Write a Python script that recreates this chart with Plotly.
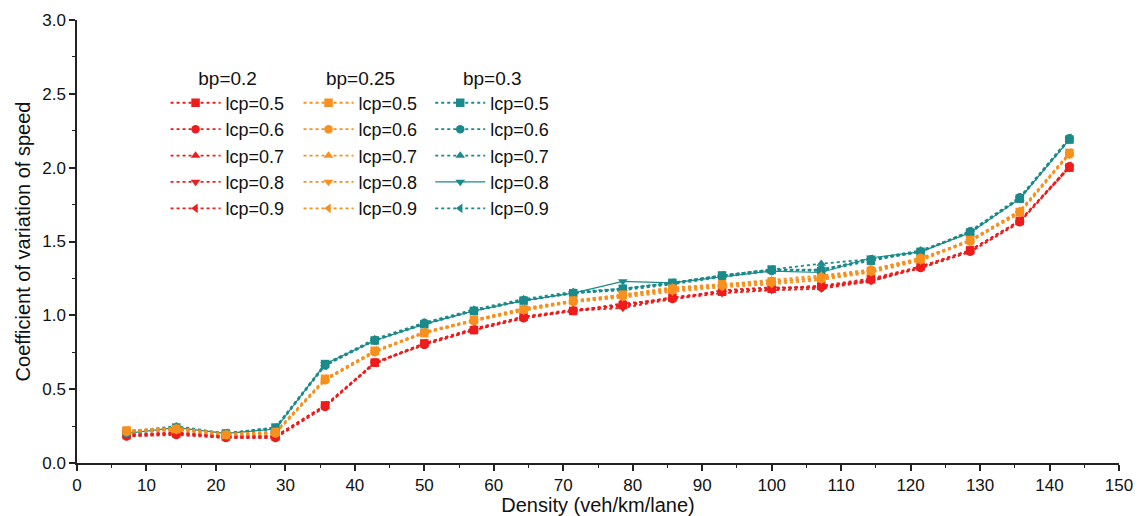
import plotly.graph_objects as go

density = [7.14, 14.29, 21.43, 28.57, 35.71, 42.86, 50.0, 57.14, 64.29, 71.43,
           78.57, 85.71, 92.86, 100.0, 107.14, 114.29, 121.43, 128.57, 135.71, 142.86]

lcp_labels = ["lcp=0.5", "lcp=0.6", "lcp=0.7", "lcp=0.8", "lcp=0.9"]
bp_labels = ["bp=0.2", "bp=0.25", "bp=0.3"]

red_05 = [0.19, 0.20, 0.18, 0.18, 0.39, 0.68, 0.81, 0.90, 0.99, 1.03, 1.07, 1.12, 1.16, 1.18, 1.20, 1.25, 1.33, 1.44, 1.64, 2.00]
red_06 = [0.18, 0.19, 0.17, 0.17, 0.38, 0.68, 0.80, 0.90, 0.98, 1.03, 1.08, 1.11, 1.17, 1.19, 1.19, 1.24, 1.32, 1.43, 1.63, 2.01]
red_07 = [0.19, 0.21, 0.18, 0.18, 0.39, 0.67, 0.81, 0.91, 0.99, 1.04, 1.06, 1.12, 1.16, 1.18, 1.20, 1.23, 1.33, 1.44, 1.64, 2.00]
red_08 = [0.18, 0.20, 0.17, 0.17, 0.38, 0.68, 0.80, 0.90, 0.98, 1.03, 1.05, 1.11, 1.15, 1.17, 1.18, 1.23, 1.32, 1.43, 1.63, 2.00]
red_09 = [0.19, 0.20, 0.18, 0.18, 0.39, 0.68, 0.81, 0.91, 0.99, 1.03, 1.07, 1.12, 1.16, 1.18, 1.19, 1.24, 1.33, 1.44, 1.64, 2.01]

org_05 = [0.22, 0.23, 0.19, 0.21, 0.57, 0.76, 0.88, 0.97, 1.04, 1.10, 1.14, 1.18, 1.21, 1.23, 1.25, 1.30, 1.38, 1.51, 1.70, 2.10]
org_06 = [0.21, 0.23, 0.19, 0.20, 0.56, 0.75, 0.88, 0.96, 1.04, 1.09, 1.13, 1.17, 1.20, 1.22, 1.26, 1.31, 1.39, 1.50, 1.70, 2.09]
org_07 = [0.22, 0.24, 0.20, 0.21, 0.57, 0.76, 0.89, 0.97, 1.05, 1.10, 1.14, 1.19, 1.21, 1.24, 1.27, 1.31, 1.38, 1.51, 1.71, 2.10]
org_08 = [0.21, 0.22, 0.19, 0.20, 0.56, 0.75, 0.88, 0.96, 1.03, 1.09, 1.12, 1.16, 1.19, 1.21, 1.24, 1.29, 1.37, 1.50, 1.69, 2.09]
org_09 = [0.22, 0.23, 0.19, 0.21, 0.57, 0.76, 0.88, 0.97, 1.04, 1.10, 1.13, 1.18, 1.20, 1.23, 1.25, 1.30, 1.38, 1.51, 1.70, 2.10]

teal_05 = [0.21, 0.24, 0.20, 0.24, 0.67, 0.83, 0.94, 1.03, 1.10, 1.15, 1.18, 1.22, 1.27, 1.31, 1.30, 1.37, 1.43, 1.56, 1.79, 2.19]
teal_06 = [0.20, 0.23, 0.20, 0.23, 0.66, 0.83, 0.95, 1.03, 1.10, 1.15, 1.17, 1.21, 1.26, 1.30, 1.31, 1.38, 1.43, 1.57, 1.80, 2.20]
teal_07 = [0.21, 0.25, 0.20, 0.24, 0.67, 0.84, 0.95, 1.04, 1.11, 1.16, 1.18, 1.22, 1.27, 1.31, 1.35, 1.38, 1.44, 1.56, 1.79, 2.19]
teal_08 = [0.20, 0.24, 0.20, 0.23, 0.67, 0.83, 0.94, 1.03, 1.10, 1.15, 1.23, 1.22, 1.26, 1.30, 1.29, 1.39, 1.43, 1.56, 1.79, 2.19]
teal_09 = [0.21, 0.24, 0.20, 0.24, 0.66, 0.83, 0.94, 1.03, 1.10, 1.15, 1.18, 1.22, 1.27, 1.31, 1.31, 1.38, 1.43, 1.57, 1.79, 2.20]

symbols = ["square", "circle", "triangle-up", "triangle-down", "triangle-left"]
groups = [
    ("legend", "#ee1c1c", [red_05, red_06, red_07, red_08, red_09]),
    ("legend3", "#1b8a8a", [teal_05, teal_06, teal_07, teal_08, teal_09]),
    ("legend2", "#f7901e", [org_05, org_06, org_07, org_08, org_09]),
]

FONT = "Liberation Sans, Arial, sans-serif"
fig = go.Figure()
for leg, color, series in groups:
    for i, ys in enumerate(series):
        solid = (leg == "legend3" and i == 3)
        fig.add_trace(go.Scatter(
            x=density, y=ys, mode="lines+markers", name=lcp_labels[i],
            legend=leg,
            line=dict(color=color, width=1.2 if solid else 1.8, dash="solid" if solid else "dot"),
            marker=dict(symbol=symbols[i], size=8.5, color=color),
        ))

leg_common = dict(
    yanchor="top", xanchor="left", y=0.91,
    bgcolor="rgba(0,0,0,0)", borderwidth=0,
    font=dict(family=FONT, size=18, color="#111"),
    itemwidth=50, tracegroupgap=0,
)
fig.update_layout(
    width=1138, height=516,
    margin=dict(l=77, r=19, t=20, b=53),
    paper_bgcolor="white", plot_bgcolor="white",
    font=dict(family=FONT, color="#111"),
    legend=dict(x=0.085, title=dict(text=bp_labels[0], side="top center", font=dict(size=19)), **leg_common),
    legend2=dict(x=0.2126, title=dict(text=bp_labels[1], side="top center", font=dict(size=19)), **leg_common),
    legend3=dict(x=0.339, title=dict(text=bp_labels[2], side="top center", font=dict(size=19)), **leg_common),
    xaxis=dict(
        range=[0, 150], dtick=10, tick0=0, showline=True, linecolor="#222", linewidth=1.5,
        ticks="outside", ticklen=6, tickwidth=1.5, tickcolor="#222",
        minor=dict(dtick=5, ticks="outside", ticklen=3, tickwidth=1.2, tickcolor="#222"),
        showgrid=False, zeroline=False, automargin=False,
        tickfont=dict(size=17, family=FONT),
        title=dict(text="Density (veh/km/lane)", font=dict(size=20, family=FONT), standoff=2),
    ),
    yaxis=dict(
        range=[0, 3], dtick=0.5, tick0=0, tickformat=".1f", showline=True, linecolor="#222", linewidth=1.5,
        ticks="outside", ticklen=6, tickwidth=1.5, tickcolor="#222",
        minor=dict(dtick=0.25, ticks="outside", ticklen=3, tickwidth=1.2, tickcolor="#222"),
        showgrid=False, zeroline=False, automargin=False,
        tickfont=dict(size=17, family=FONT),
        title=dict(text="Coefficient of variation of speed", font=dict(size=20, family=FONT), standoff=6),
    ),
)
fig.write_html("out.html")
